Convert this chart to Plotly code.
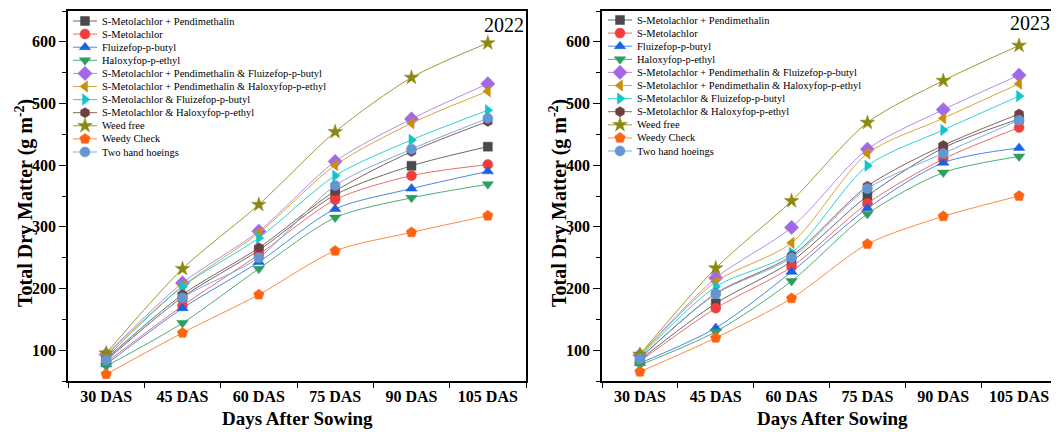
import plotly.graph_objects as go

# Sampling dates (x categories)
days = ["30 DAS", "45 DAS", "60 DAS", "75 DAS", "90 DAS", "105 DAS"]

treatments = [
    "S-Metolachlor + Pendimethalin",
    "S-Metolachlor",
    "Fluizefop-p-butyl",
    "Haloxyfop-p-ethyl",
    "S-Metolachlor + Pendimethalin & Fluizefop-p-butyl",
    "S-Metolachlor + Pendimethalin & Haloxyfop-p-ethyl",
    "S-Metolachlor & Fluizefop-p-butyl",
    "S-Metolachlor & Haloxyfop-p-ethyl",
    "Weed free",
    "Weedy Check",
    "Two hand hoeings",
]

# Total dry matter (g m-2), 2022 season
tdm_2022_smp = [83, 186, 262, 352, 399, 430]
tdm_2022_sm = [80, 172, 255, 344, 383, 401]
tdm_2022_fluiz = [77, 168, 243, 329, 362, 390]
tdm_2022_halox = [74, 144, 232, 315, 347, 369]
tdm_2022_smp_fluiz = [93, 209, 293, 406, 475, 532]
tdm_2022_smp_halox = [92, 204, 290, 400, 468, 520]
tdm_2022_sm_fluiz = [88, 203, 282, 383, 441, 489]
tdm_2022_sm_halox = [86, 190, 266, 358, 422, 471]
tdm_2022_weed_free = [95, 232, 336, 454, 542, 598]
tdm_2022_weedy = [61, 128, 190, 261, 291, 318]
tdm_2022_hoeing = [84, 185, 250, 367, 426, 476]

# Total dry matter (g m-2), 2023 season
tdm_2023_smp = [84, 176, 244, 350, 428, 475]
tdm_2023_sm = [82, 168, 235, 338, 410, 461]
tdm_2023_fluiz = [79, 136, 227, 330, 404, 428]
tdm_2023_halox = [76, 130, 212, 321, 388, 414]
tdm_2023_smp_fluiz = [92, 217, 299, 426, 490, 546]
tdm_2023_smp_halox = [91, 211, 274, 419, 476, 532]
tdm_2023_sm_fluiz = [89, 203, 258, 399, 457, 512]
tdm_2023_sm_halox = [87, 192, 253, 366, 432, 483]
tdm_2023_weed_free = [93, 233, 342, 469, 537, 594]
tdm_2023_weedy = [65, 120, 184, 272, 317, 350]
tdm_2023_hoeing = [86, 191, 250, 362, 419, 473]

y_ticks = [100, 200, 300, 400, 500, 600]

data_2022 = [tdm_2022_smp, tdm_2022_sm, tdm_2022_fluiz, tdm_2022_halox,
             tdm_2022_smp_fluiz, tdm_2022_smp_halox, tdm_2022_sm_fluiz,
             tdm_2022_sm_halox, tdm_2022_weed_free, tdm_2022_weedy, tdm_2022_hoeing]
data_2023 = [tdm_2023_smp, tdm_2023_sm, tdm_2023_fluiz, tdm_2023_halox,
             tdm_2023_smp_fluiz, tdm_2023_smp_halox, tdm_2023_sm_fluiz,
             tdm_2023_sm_halox, tdm_2023_weed_free, tdm_2023_weedy, tdm_2023_hoeing]

# marker colour, line colour, symbol, size
styles = [
    ("#4a4a4a", "#6a6a6a", "square", 9),
    ("#f23d3d", "#f06a6a", "circle", 10),
    ("#1a62e0", "#4d86e6", "triangle-up", 10),
    ("#2e9e5e", "#4cae77", "triangle-down", 10),
    ("#a368e6", "#b48ce8", "diamond", 11),
    ("#c8900a", "#d9a53a", "triangle-left", 10),
    ("#15c4c8", "#30d0d0", "triangle-right", 10),
    ("#6d3f3f", "#8a6060", "hexagon", 10),
    ("#8a8a12", "#9a9a30", "star", 11),
    ("#ff6312", "#ff8a45", "pentagon", 11),
    ("#6496d2", "#80aadd", "circle", 10),
]

# the page body has an 8px margin, so the figure is sized to fit the window
OFF = 8
WIN_W, WIN_H = 1059, 432
W, H = WIN_W - OFF, WIN_H - OFF
SERIF = "Liberation Serif"


def px(x):
    return (x - OFF) / W


def py(y):
    return 1 - (y - OFF) / H


fig = go.Figure()

for panel, series in (("", data_2022), ("2", data_2023)):
    for name, vals, (mc, lc, sym, sz) in zip(treatments, series, styles):
        fig.add_trace(go.Scatter(
            x=days, y=vals, name=name, showlegend=False,
            xaxis="x" + panel, yaxis="y" + panel,
            mode="lines+markers",
            line=dict(color=lc, width=1.0, shape="spline", smoothing=0.8),
            marker=dict(symbol=sym, size=sz, color=mc, opacity=1,
                        line=dict(color=mc, width=0.5)),
        ))

# hand-made legends (native plotly legend rows are too tall for this layout)
legend_specs = [(73, 97, 21), (608, 632, 20)]
row_step = 13.1
annotations = []
for x0, x1, ytop in legend_specs:
    for i, (name, (mc, lc, sym, sz)) in enumerate(zip(treatments, styles)):
        yy = ytop + i * row_step
        fig.add_trace(go.Scatter(
            x=[x0, x1], y=[yy, yy], xaxis="x3", yaxis="y3",
            showlegend=False, mode="lines", line=dict(color=lc, width=1.0),
            hoverinfo="skip",
        ))
        fig.add_trace(go.Scatter(
            x=[(x0 + x1) / 2], y=[yy], xaxis="x3", yaxis="y3",
            showlegend=False, mode="markers",
            marker=dict(symbol=sym, size=sz, color=mc, opacity=1,
                        line=dict(color=mc, width=0.5)),
            hoverinfo="skip",
        ))
        annotations.append(dict(
            x=x1 + 3, y=yy, xref="x3", yref="y3", text=name, showarrow=False,
            xanchor="left", yanchor="middle",
            font=dict(family=SERIF, size=10.5, color="#000"),
        ))

# year labels and axis titles
for txt, x, y in (("2022", 504, 25), ("2023", 1030, 23)):
    annotations.append(dict(x=px(x), y=py(y), xref="paper", yref="paper", text=txt,
                            showarrow=False, xanchor="center", yanchor="middle",
                            font=dict(family=SERIF, size=20, color="#000")))
for x in (297, 832):
    annotations.append(dict(x=px(x), y=py(418), xref="paper", yref="paper",
                            text="<b>Days After Sowing</b>", showarrow=False,
                            xanchor="center", yanchor="middle",
                            font=dict(family=SERIF, size=19, color="#000")))
for x in (24, 558):
    annotations.append(dict(x=px(x), y=py(203), xref="paper", yref="paper",
                            text="<b>Total Dry Matter (g m<sup>-2</sup>)</b>",
                            showarrow=False, textangle=-90,
                            xanchor="center", yanchor="middle",
                            font=dict(family=SERIF, size=20, color="#000")))

xaxis_common = dict(
    type="category", range=[-0.5, 5.5], tickson="boundaries",
    ticks="outside", ticklen=5, tickwidth=1.3, tickcolor="#000",
    showline=True, linecolor="#000", linewidth=1.5, mirror=True,
    showgrid=False, zeroline=False,
    tickfont=dict(family=SERIF, size=16, color="#000", weight="bold"),
)
yaxis_common = dict(
    range=[50, 650], tickvals=y_ticks,
    ticks="outside", ticklen=7, tickwidth=1.3, tickcolor="#000",
    minor=dict(ticks="outside", dtick=50, tick0=50, ticklen=4, tickwidth=1.1,
               tickcolor="#000"),
    showline=True, linecolor="#000", linewidth=1.5, mirror=True,
    showgrid=False, zeroline=False,
    tickfont=dict(family=SERIF, size=16, color="#000", weight="bold"),
)

y_dom = [py(381), py(11)]
fig.update_layout(
    width=W, height=H,
    margin=dict(l=0, r=0, t=0, b=0),
    paper_bgcolor="white", plot_bgcolor="rgba(0,0,0,0)",
    showlegend=False,
    xaxis=dict(domain=[px(68), px(526)], anchor="y", **xaxis_common),
    yaxis=dict(domain=y_dom, anchor="x", **yaxis_common),
    xaxis2=dict(domain=[px(602), px(1057)], anchor="y2", **xaxis_common),
    yaxis2=dict(domain=y_dom, anchor="x2", **yaxis_common),
    # pixel-space axes used for the legend glyphs
    xaxis3=dict(domain=[0, 1], range=[OFF, OFF + W], anchor="y3", visible=False,
                fixedrange=True),
    yaxis3=dict(domain=[0, 1], range=[OFF + H, OFF], anchor="x3", visible=False,
                fixedrange=True),
    annotations=annotations,
)

fig.write_html("out.html")
